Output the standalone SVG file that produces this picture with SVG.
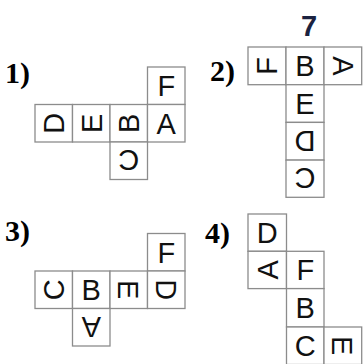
<svg xmlns="http://www.w3.org/2000/svg" width="363" height="364" viewBox="0 0 363 364">
<style>
  .cell rect { fill: #ffffff; stroke: #8c8c8c; stroke-width: 1.3; }
  .cell text { font-family: "Liberation Sans", Arial, sans-serif; font-size: 29px; fill: #111111; text-anchor: middle; }
  .num { font-family: "Liberation Serif", "Times New Roman", serif; font-size: 30px; font-weight: bold; fill: #000000; }
  .title { font-family: "Liberation Sans", Arial, sans-serif; font-size: 29px; font-weight: bold; fill: #1b2240; text-anchor: middle; }
</style>
<rect width="363" height="364" fill="#ffffff"/>

<g id="title"><text class="title" x="309" y="36">7</text></g>

<text class="num" x="5" y="83">1)</text>
<text class="num" x="210" y="81">2)</text>
<text class="num" x="5" y="241">3)</text>
<text class="num" x="205" y="243">4)</text>

<!-- Net 1 -->
<g id="net1">
  <g id="n1-F" class="cell" transform="translate(147.5,67)"><rect width="37.5" height="37.5"/><text x="18.75" y="29.15">F</text></g>
  <g id="n1-D" class="cell" transform="translate(35,104.5)"><rect width="37.5" height="37.5"/><text x="18.75" y="29.15" transform="rotate(-90 18.75 18.75)">D</text></g>
  <g id="n1-E" class="cell" transform="translate(72.5,104.5)"><rect width="37.5" height="37.5"/><text x="18.75" y="29.15" transform="rotate(-90 18.75 18.75)">E</text></g>
  <g id="n1-B" class="cell" transform="translate(110,104.5)"><rect width="37.5" height="37.5"/><text x="18.75" y="29.15" transform="rotate(-90 18.75 18.75)">B</text></g>
  <g id="n1-A" class="cell" transform="translate(147.5,104.5)"><rect width="37.5" height="37.5"/><text x="18.75" y="29.15">A</text></g>
  <g id="n1-C" class="cell" transform="translate(110,142)"><rect width="37.5" height="37.5"/><text x="18.75" y="29.15" transform="rotate(180 18.75 18.75)">C</text></g>
</g>

<!-- Net 2 -->
<g id="net2">
  <g id="n2-F" class="cell" transform="translate(248,47)"><rect width="38" height="37.7"/><text x="19" y="29.25" transform="rotate(-90 19 18.85)">F</text></g>
  <g id="n2-B" class="cell" transform="translate(286,47)"><rect width="38" height="37.7"/><text x="19" y="29.25">B</text></g>
  <g id="n2-A" class="cell" transform="translate(324,47)"><rect width="37.7" height="37.7"/><text x="19" y="29.25" transform="rotate(90 19 18.85)">A</text></g>
  <g id="n2-E" class="cell" transform="translate(286,84.7)"><rect width="38" height="37.7"/><text x="19" y="29.25">E</text></g>
  <g id="n2-D" class="cell" transform="translate(286,122.4)"><rect width="38" height="37.7"/><text x="19" y="29.25" transform="rotate(180 19 18.85)">D</text></g>
  <g id="n2-C" class="cell" transform="translate(286,160.1)"><rect width="38" height="37.2"/><text x="19" y="29" transform="rotate(180 19 18.6)">C</text></g>
</g>

<!-- Net 3 -->
<g id="net3">
  <g id="n3-F" class="cell" transform="translate(147.5,233.5)"><rect width="37.5" height="37.5"/><text x="18.75" y="29.15">F</text></g>
  <g id="n3-C" class="cell" transform="translate(35,271)"><rect width="37.5" height="37.5"/><text x="18.75" y="29.15" transform="rotate(-90 18.75 18.75)">C</text></g>
  <g id="n3-B" class="cell" transform="translate(72.5,271)"><rect width="37.5" height="37.5"/><text x="18.75" y="29.15">B</text></g>
  <g id="n3-E" class="cell" transform="translate(110,271)"><rect width="37.5" height="37.5"/><text x="18.75" y="29.15" transform="rotate(90 18.75 18.75)">E</text></g>
  <g id="n3-D" class="cell" transform="translate(147.5,271)"><rect width="37.5" height="37.5"/><text x="18.75" y="29.15" transform="rotate(90 18.75 18.75)">D</text></g>
  <g id="n3-A" class="cell" transform="translate(72.5,308.5)"><rect width="37.5" height="37.5"/><text x="18.75" y="29.15" transform="rotate(180 18.75 18.75)">A</text></g>
</g>

<!-- Net 4 -->
<g id="net4">
  <g id="n4-D" class="cell" transform="translate(248,214)"><rect width="38.5" height="37.3"/><text x="19.25" y="29.05">D</text></g>
  <g id="n4-A" class="cell" transform="translate(248,251.3)"><rect width="38.5" height="37.3"/><text x="19.25" y="29.05" transform="rotate(-90 19.25 18.65)">A</text></g>
  <g id="n4-F" class="cell" transform="translate(286.5,251.3)"><rect width="37.5" height="37.3"/><text x="18.75" y="29.05">F</text></g>
  <g id="n4-B" class="cell" transform="translate(286.5,288.6)"><rect width="37.5" height="38.4"/><text x="18.75" y="29.6">B</text></g>
  <g id="n4-C" class="cell" transform="translate(286.5,327)"><rect width="37.5" height="37.5"/><text x="18.75" y="29.15">C</text></g>
  <g id="n4-E" class="cell" transform="translate(324,327)"><rect width="37.7" height="37.5"/><text x="18.85" y="29.15" transform="rotate(90 18.85 18.75)">E</text></g>
</g>
</svg>
